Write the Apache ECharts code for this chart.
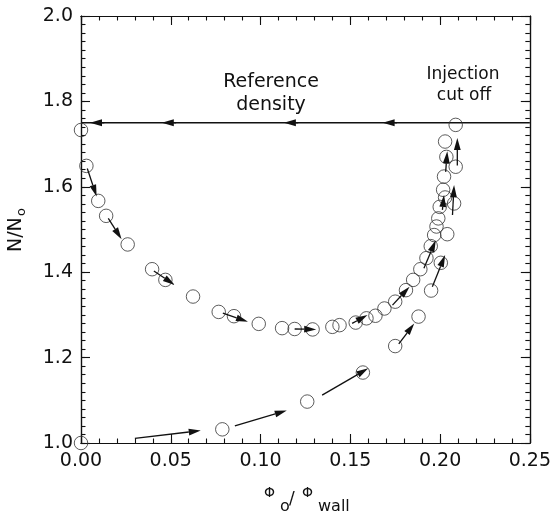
<!DOCTYPE html>
<html><head><meta charset="utf-8">
<script src="https://cdn.jsdelivr.net/npm/echarts/dist/echarts.min.js"></script>
<style>html,body{margin:0;padding:0;background:#fff}#c{width:554px;height:515px}</style>
</head><body><div id="c"></div>
<script>
// x axis: Phi_o / Phi_wall ; y axis: N / N_o
const xRange = [0, 0.25];
const xStep = 0.05;
const xMinorStep = 0.01;
const yRange = [1.0, 2.0];
const yStep = 0.2;
const yMinorStep = 0.02;

// open circles, upper (decay) branch
const upperBranch = [
  [0.000,1.733],[0.003,1.649],[0.0096,1.567],[0.014,1.532],[0.026,1.465],
  [0.0396,1.407],[0.047,1.382],[0.0624,1.343],[0.0767,1.307],[0.0852,1.297],
  [0.099,1.279],[0.112,1.269],[0.119,1.267],[0.129,1.266],[0.140,1.272],
  [0.144,1.276],[0.153,1.282],[0.159,1.292],[0.164,1.298],[0.169,1.315],
  [0.175,1.331],[0.181,1.358],[0.185,1.382],[0.189,1.407],[0.1924,1.433],
  [0.1948,1.461],[0.1967,1.487],[0.198,1.507],[0.199,1.526],[0.1998,1.553],
  [0.2028,1.575],[0.2017,1.593],[0.2022,1.624],[0.2035,1.670],[0.2028,1.706]
];
// open circles, lower (injection) branch
const lowerBranch = [
  [0.000,1.000],[0.0787,1.032],[0.126,1.097],[0.157,1.165],[0.175,1.227],
  [0.188,1.296],[0.195,1.357],[0.2004,1.422],[0.204,1.489],[0.2078,1.561],
  [0.2087,1.647],[0.2087,1.745]
];
// trajectory arrows: [xStart, yStart, xEnd, yEnd]
const arrows = [
  [0.0035,1.643,0.0087,1.577],
  [0.0152,1.526,0.0226,1.477],
  [0.0406,1.403,0.0522,1.370],
  [0.079,1.304,0.093,1.284],
  [0.119,1.267,0.131,1.266],
  [0.151,1.280,0.1596,1.300],
  [0.1735,1.323,0.183,1.366],
  [0.191,1.409,0.1976,1.475],
  [0.1957,1.366,0.2028,1.440],
  [0.177,1.232,0.1856,1.280],
  [0.1343,1.112,0.160,1.175],
  [0.0857,1.040,0.1146,1.076],
  [0.030,1.011,0.0667,1.029],
  [0.2031,1.635,0.2040,1.683],
  [0.2096,1.650,0.2096,1.714],
  [0.2069,1.534,0.2078,1.604],
  [0.2013,1.546,0.2022,1.581]
];
// reference density level and left-pointing arrow tips on it
const refLevel = 1.75;
const refArrowTips = [0.005, 0.045, 0.113, 0.168];

const FONT = 'DejaVu Sans';
const INK = '#111';

function renderArrow(params, api) {
  const p1 = api.coord([api.value(0), api.value(1)]);
  const p2 = api.coord([api.value(2), api.value(3)]);
  const dx = p2[0] - p1[0], dy = p2[1] - p1[1];
  const L = Math.hypot(dx, dy) || 1;
  const ux = dx / L, uy = dy / L;
  const hl = Math.min(12, L), hw = 3.4;
  const bx = p2[0] - ux * hl, by = p2[1] - uy * hl;
  return {
    type: 'group',
    children: [
      { type: 'line', shape: { x1: p1[0], y1: p1[1], x2: bx, y2: by },
        style: { stroke: INK, lineWidth: 1.3 } },
      { type: 'polygon',
        shape: { points: [[p2[0], p2[1]], [bx - uy * hw, by + ux * hw], [bx + uy * hw, by - ux * hw]] },
        style: { fill: INK } }
    ]
  };
}

function makeAxis(range, step, position, tickLen, showLabel, digits) {
  return {
    type: 'value', position: position, min: range[0], max: range[1], interval: step,
    axisLine: { show: true, onZero: false, lineStyle: { color: INK, width: 1.2 } },
    axisTick: { show: true, inside: true, length: tickLen, lineStyle: { color: INK, width: 1.1 } },
    axisLabel: showLabel
      ? { show: true, margin: position === 'bottom' ? 9 : 8, fontFamily: FONT, fontSize: 19, color: INK,
          formatter: v => v.toFixed(digits) }
      : { show: false },
    splitLine: { show: false }
  };
}

const option = {
  animation: false,
  backgroundColor: '#fff',
  grid: { left: 81, right: 23, top: 16, bottom: 72 },
  xAxis: [
    makeAxis(xRange, xStep, 'bottom', 9, true, 2),
    makeAxis(xRange, xMinorStep, 'bottom', 4.5, false),
    makeAxis(xRange, xStep, 'top', 9, false),
    makeAxis(xRange, xMinorStep, 'top', 4.5, false)
  ],
  yAxis: [
    makeAxis(yRange, yStep, 'left', 9, true, 1),
    makeAxis(yRange, yMinorStep, 'left', 4.5, false),
    makeAxis(yRange, yStep, 'right', 9, false),
    makeAxis(yRange, yMinorStep, 'right', 4.5, false)
  ],
  series: [
    { type: 'line', data: [[xRange[0], refLevel], [xRange[1], refLevel]], symbol: 'none',
      lineStyle: { color: INK, width: 1.3 }, z: 2 },
    { type: 'scatter', data: upperBranch, symbol: 'circle', symbolSize: 13.5,
      itemStyle: { color: 'rgba(0,0,0,0)', borderColor: '#333', borderWidth: 1 }, z: 3 },
    { type: 'scatter', data: lowerBranch, symbol: 'circle', symbolSize: 13.5,
      itemStyle: { color: 'rgba(0,0,0,0)', borderColor: '#333', borderWidth: 1 }, z: 3 },
    { type: 'custom', renderItem: renderArrow, data: arrows,
      encode: { x: [0, 2], y: [1, 3] }, z: 4 },
    { type: 'custom', renderItem: renderArrow,
      data: refArrowTips.map(t => [t + 0.008, refLevel, t, refLevel]),
      encode: { x: [0, 2], y: [1, 3] }, z: 4 }
  ],
  graphic: [
    { type: 'text', x: 271, y: 82, style: { text: 'Reference', font: '19px "DejaVu Sans"', fill: INK, textAlign: 'center', textVerticalAlign: 'middle' } },
    { type: 'text', x: 271, y: 105, style: { text: 'density', font: '19px "DejaVu Sans"', fill: INK, textAlign: 'center', textVerticalAlign: 'middle' } },
    { type: 'text', x: 463, y: 75, style: { text: 'Injection', font: '17px "DejaVu Sans"', fill: INK, textAlign: 'center', textVerticalAlign: 'middle' } },
    { type: 'text', x: 464, y: 96, style: { text: 'cut off', font: '17px "DejaVu Sans"', fill: INK, textAlign: 'center', textVerticalAlign: 'middle' } },
    // y-axis title N/N_o (rotated)
    { type: 'group', x: 16, y: 228, rotation: Math.PI / 2, children: [
      { type: 'text', x: -24, y: 0, style: { text: 'N/N', font: '19px "DejaVu Sans"', fill: INK, textAlign: 'left', textVerticalAlign: 'middle' } },
      { type: 'text', x: 12, y: 6, style: { text: 'o', font: '13px "DejaVu Sans"', fill: INK, textAlign: 'left', textVerticalAlign: 'middle' } }
    ] },
    // x-axis title Phi_o / Phi_wall
    { type: 'text', x: 264, y: 493, style: { text: 'Φ', font: '14px "DejaVu Sans"', fill: INK, textAlign: 'left', textVerticalAlign: 'middle' } },
    { type: 'text', x: 280, y: 507, style: { text: 'o', font: '16px "DejaVu Sans"', fill: INK, textAlign: 'left', textVerticalAlign: 'middle' } },
    { type: 'text', x: 289, y: 500, style: { text: '/', font: '17px "DejaVu Sans"', fill: INK, textAlign: 'left', textVerticalAlign: 'middle' } },
    { type: 'text', x: 302, y: 493, style: { text: 'Φ', font: '14px "DejaVu Sans"', fill: INK, textAlign: 'left', textVerticalAlign: 'middle' } },
    { type: 'text', x: 318, y: 507, style: { text: 'wall', font: '16px "DejaVu Sans"', fill: INK, textAlign: 'left', textVerticalAlign: 'middle' } }
  ]
};

const chart = echarts.init(document.getElementById('c'), null, { renderer: 'canvas' });
chart.setOption(option);
</script>
</body></html>
